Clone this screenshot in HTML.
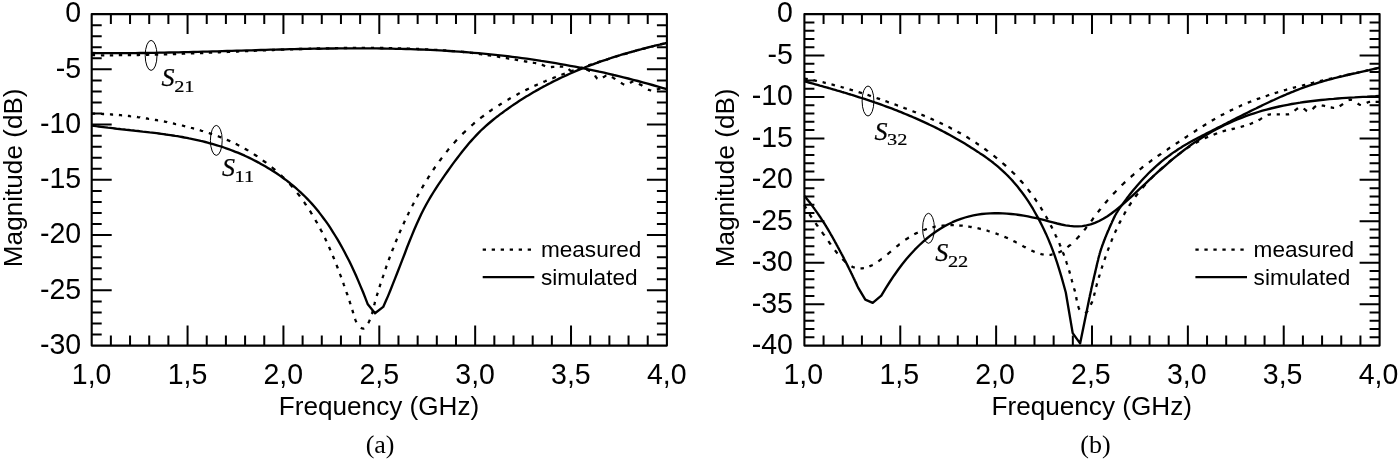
<!DOCTYPE html>
<html lang="en"><head><meta charset="utf-8"><title>S-parameters</title>
<style>
html,body{margin:0;padding:0;background:#fff;}
body{width:1400px;height:463px;overflow:hidden;}
svg{display:block;will-change:transform;}
.t{font-family:"Liberation Sans",Arial,sans-serif;font-size:26.15px;fill:#000;}
.tk{font-family:"Liberation Sans",Arial,sans-serif;font-size:28.5px;fill:#000;}
.lg{font-family:"Liberation Sans",Arial,sans-serif;font-size:22.6px;fill:#000;}
.cap{font-family:"Liberation Serif","Times New Roman",serif;font-size:26px;fill:#000;}
.S{font-family:"Liberation Serif","Times New Roman",serif;font-style:italic;font-size:26px;fill:#000;stroke:#000;stroke-width:0.25;}
.sub{font-family:"Liberation Serif","Times New Roman",serif;font-size:17.7px;fill:#000;stroke:#000;stroke-width:0.2;}
.sol{fill:none;stroke:#000;stroke-width:2.35;stroke-linejoin:round;stroke-linecap:butt;}
.dots{fill:none;stroke:#000;stroke-width:2.3;stroke-linecap:butt;}
.dot{fill:none;stroke:#000;stroke-width:2.2;stroke-dasharray:3.3 5.7;stroke-linejoin:round;}
</style></head><body>
<svg width="1400" height="463" viewBox="0 0 1400 463">
<rect width="1400" height="463" fill="#fff"/>
<rect x="91.70" y="14.10" width="575.20" height="331.50" fill="none" stroke="#000" stroke-width="2.1" stroke-linejoin="round"/>
<path d="M110.87,14.10v10M110.87,345.60v-10M130.05,14.10v10M130.05,345.60v-10M149.22,14.10v10M149.22,345.60v-10M168.39,14.10v10M168.39,345.60v-10M187.57,14.10v20M187.57,345.60v-20M206.74,14.10v10M206.74,345.60v-10M225.91,14.10v10M225.91,345.60v-10M245.09,14.10v10M245.09,345.60v-10M264.26,14.10v10M264.26,345.60v-10M283.43,14.10v20M283.43,345.60v-20M302.61,14.10v10M302.61,345.60v-10M321.78,14.10v10M321.78,345.60v-10M340.95,14.10v10M340.95,345.60v-10M360.13,14.10v10M360.13,345.60v-10M379.30,14.10v20M379.30,345.60v-20M398.47,14.10v10M398.47,345.60v-10M417.65,14.10v10M417.65,345.60v-10M436.82,14.10v10M436.82,345.60v-10M455.99,14.10v10M455.99,345.60v-10M475.17,14.10v20M475.17,345.60v-20M494.34,14.10v10M494.34,345.60v-10M513.51,14.10v10M513.51,345.60v-10M532.69,14.10v10M532.69,345.60v-10M551.86,14.10v10M551.86,345.60v-10M571.03,14.10v20M571.03,345.60v-20M590.21,14.10v10M590.21,345.60v-10M609.38,14.10v10M609.38,345.60v-10M628.55,14.10v10M628.55,345.60v-10M647.73,14.10v10M647.73,345.60v-10M91.70,25.15h10M666.90,25.15h-10M91.70,36.20h10M666.90,36.20h-10M91.70,47.25h10M666.90,47.25h-10M91.70,58.30h10M666.90,58.30h-10M91.70,69.35h20M666.90,69.35h-20M91.70,80.40h10M666.90,80.40h-10M91.70,91.45h10M666.90,91.45h-10M91.70,102.50h10M666.90,102.50h-10M91.70,113.55h10M666.90,113.55h-10M91.70,124.60h20M666.90,124.60h-20M91.70,135.65h10M666.90,135.65h-10M91.70,146.70h10M666.90,146.70h-10M91.70,157.75h10M666.90,157.75h-10M91.70,168.80h10M666.90,168.80h-10M91.70,179.85h20M666.90,179.85h-20M91.70,190.90h10M666.90,190.90h-10M91.70,201.95h10M666.90,201.95h-10M91.70,213.00h10M666.90,213.00h-10M91.70,224.05h10M666.90,224.05h-10M91.70,235.10h20M666.90,235.10h-20M91.70,246.15h10M666.90,246.15h-10M91.70,257.20h10M666.90,257.20h-10M91.70,268.25h10M666.90,268.25h-10M91.70,279.30h10M666.90,279.30h-10M91.70,290.35h20M666.90,290.35h-20M91.70,301.40h10M666.90,301.40h-10M91.70,312.45h10M666.90,312.45h-10M91.70,323.50h10M666.90,323.50h-10M91.70,334.55h10M666.90,334.55h-10" stroke="#000" stroke-width="2" fill="none"/>
<text transform="translate(91.6,384.0) scale(1,1.045)" text-anchor="middle" class="tk">1,0</text>
<text transform="translate(187.5,384.0) scale(1,1.045)" text-anchor="middle" class="tk">1,5</text>
<text transform="translate(283.3,384.0) scale(1,1.045)" text-anchor="middle" class="tk">2,0</text>
<text transform="translate(379.2,384.0) scale(1,1.045)" text-anchor="middle" class="tk">2,5</text>
<text transform="translate(475.1,384.0) scale(1,1.045)" text-anchor="middle" class="tk">3,0</text>
<text transform="translate(570.9,384.0) scale(1,1.045)" text-anchor="middle" class="tk">3,5</text>
<text transform="translate(666.8,384.0) scale(1,1.045)" text-anchor="middle" class="tk">4,0</text>
<text transform="translate(81.2,22.4) scale(1,1.045)" text-anchor="end" class="tk">0</text>
<text transform="translate(81.2,77.6) scale(1,1.045)" text-anchor="end" class="tk">-5</text>
<text transform="translate(81.2,132.9) scale(1,1.045)" text-anchor="end" class="tk">-10</text>
<text transform="translate(81.2,188.2) scale(1,1.045)" text-anchor="end" class="tk">-15</text>
<text transform="translate(81.2,243.4) scale(1,1.045)" text-anchor="end" class="tk">-20</text>
<text transform="translate(81.2,298.7) scale(1,1.045)" text-anchor="end" class="tk">-25</text>
<text transform="translate(81.2,353.9) scale(1,1.045)" text-anchor="end" class="tk">-30</text>
<text x="379.0" y="415.1" text-anchor="middle" class="t">Frequency (GHz)</text>
<text transform="translate(21.6,177.8) rotate(-90)" text-anchor="middle" class="t">Magnitude (dB)</text>
<text x="380.1" y="452.6" text-anchor="middle" class="cap">(a)</text>
<path d="M482.7,249.7H531.5" class="dot"/>
<path d="M482.7,277.1H534.3" class="sol"/>
<text x="540.9" y="257.3" class="lg">measured</text>
<text x="540.9" y="284.5" class="lg">simulated</text>
<rect x="804.40" y="14.10" width="575.20" height="331.50" fill="none" stroke="#000" stroke-width="2.1" stroke-linejoin="round"/>
<path d="M823.57,14.10v10M823.57,345.60v-10M842.75,14.10v10M842.75,345.60v-10M861.92,14.10v10M861.92,345.60v-10M881.09,14.10v10M881.09,345.60v-10M900.27,14.10v20M900.27,345.60v-20M919.44,14.10v10M919.44,345.60v-10M938.61,14.10v10M938.61,345.60v-10M957.79,14.10v10M957.79,345.60v-10M976.96,14.10v10M976.96,345.60v-10M996.13,14.10v20M996.13,345.60v-20M1015.31,14.10v10M1015.31,345.60v-10M1034.48,14.10v10M1034.48,345.60v-10M1053.65,14.10v10M1053.65,345.60v-10M1072.83,14.10v10M1072.83,345.60v-10M1092.00,14.10v20M1092.00,345.60v-20M1111.17,14.10v10M1111.17,345.60v-10M1130.35,14.10v10M1130.35,345.60v-10M1149.52,14.10v10M1149.52,345.60v-10M1168.69,14.10v10M1168.69,345.60v-10M1187.87,14.10v20M1187.87,345.60v-20M1207.04,14.10v10M1207.04,345.60v-10M1226.21,14.10v10M1226.21,345.60v-10M1245.39,14.10v10M1245.39,345.60v-10M1264.56,14.10v10M1264.56,345.60v-10M1283.73,14.10v20M1283.73,345.60v-20M1302.91,14.10v10M1302.91,345.60v-10M1322.08,14.10v10M1322.08,345.60v-10M1341.25,14.10v10M1341.25,345.60v-10M1360.43,14.10v10M1360.43,345.60v-10M804.40,22.39h10M1379.60,22.39h-10M804.40,30.67h10M1379.60,30.67h-10M804.40,38.96h10M1379.60,38.96h-10M804.40,47.25h10M1379.60,47.25h-10M804.40,55.54h20M1379.60,55.54h-20M804.40,63.82h10M1379.60,63.82h-10M804.40,72.11h10M1379.60,72.11h-10M804.40,80.40h10M1379.60,80.40h-10M804.40,88.69h10M1379.60,88.69h-10M804.40,96.97h20M1379.60,96.97h-20M804.40,105.26h10M1379.60,105.26h-10M804.40,113.55h10M1379.60,113.55h-10M804.40,121.84h10M1379.60,121.84h-10M804.40,130.12h10M1379.60,130.12h-10M804.40,138.41h20M1379.60,138.41h-20M804.40,146.70h10M1379.60,146.70h-10M804.40,154.99h10M1379.60,154.99h-10M804.40,163.27h10M1379.60,163.27h-10M804.40,171.56h10M1379.60,171.56h-10M804.40,179.85h20M1379.60,179.85h-20M804.40,188.14h10M1379.60,188.14h-10M804.40,196.42h10M1379.60,196.42h-10M804.40,204.71h10M1379.60,204.71h-10M804.40,213.00h10M1379.60,213.00h-10M804.40,221.29h20M1379.60,221.29h-20M804.40,229.57h10M1379.60,229.57h-10M804.40,237.86h10M1379.60,237.86h-10M804.40,246.15h10M1379.60,246.15h-10M804.40,254.44h10M1379.60,254.44h-10M804.40,262.73h20M1379.60,262.73h-20M804.40,271.01h10M1379.60,271.01h-10M804.40,279.30h10M1379.60,279.30h-10M804.40,287.59h10M1379.60,287.59h-10M804.40,295.88h10M1379.60,295.88h-10M804.40,304.16h20M1379.60,304.16h-20M804.40,312.45h10M1379.60,312.45h-10M804.40,320.74h10M1379.60,320.74h-10M804.40,329.03h10M1379.60,329.03h-10M804.40,337.31h10M1379.60,337.31h-10" stroke="#000" stroke-width="2" fill="none"/>
<text transform="translate(803.3,384.0) scale(1,1.045)" text-anchor="middle" class="tk">1,0</text>
<text transform="translate(899.2,384.0) scale(1,1.045)" text-anchor="middle" class="tk">1,5</text>
<text transform="translate(995.0,384.0) scale(1,1.045)" text-anchor="middle" class="tk">2,0</text>
<text transform="translate(1090.9,384.0) scale(1,1.045)" text-anchor="middle" class="tk">2,5</text>
<text transform="translate(1186.8,384.0) scale(1,1.045)" text-anchor="middle" class="tk">3,0</text>
<text transform="translate(1282.6,384.0) scale(1,1.045)" text-anchor="middle" class="tk">3,5</text>
<text transform="translate(1378.5,384.0) scale(1,1.045)" text-anchor="middle" class="tk">4,0</text>
<text transform="translate(792.9,22.4) scale(1,1.045)" text-anchor="end" class="tk">0</text>
<text transform="translate(792.9,63.8) scale(1,1.045)" text-anchor="end" class="tk">-5</text>
<text transform="translate(792.9,105.3) scale(1,1.045)" text-anchor="end" class="tk">-10</text>
<text transform="translate(792.9,146.7) scale(1,1.045)" text-anchor="end" class="tk">-15</text>
<text transform="translate(792.9,188.2) scale(1,1.045)" text-anchor="end" class="tk">-20</text>
<text transform="translate(792.9,229.6) scale(1,1.045)" text-anchor="end" class="tk">-25</text>
<text transform="translate(792.9,271.0) scale(1,1.045)" text-anchor="end" class="tk">-30</text>
<text transform="translate(792.9,312.5) scale(1,1.045)" text-anchor="end" class="tk">-35</text>
<text transform="translate(792.9,353.9) scale(1,1.045)" text-anchor="end" class="tk">-40</text>
<text x="1091.7" y="415.1" text-anchor="middle" class="t">Frequency (GHz)</text>
<text transform="translate(734.3,177.8) rotate(-90)" text-anchor="middle" class="t">Magnitude (dB)</text>
<text x="1095.5" y="452.6" text-anchor="middle" class="cap">(b)</text>
<path d="M1195.4,249.7H1244.2" class="dot"/>
<path d="M1195.4,277.1H1247.0" class="sol"/>
<text x="1253.6" y="257.3" class="lg">measured</text>
<text x="1253.6" y="284.5" class="lg">simulated</text>
<path d="M91.7,53.0 L96.5,53.1 L101.4,53.1 L106.2,53.1 L111.0,53.1 L115.9,53.2 L120.7,53.1 L125.5,53.1 L130.4,53.1 L135.2,53.1 L140.0,53.0 L144.9,53.0 L149.7,52.9 L154.5,52.8 L159.4,52.7 L164.2,52.6 L169.0,52.5 L173.9,52.4 L178.7,52.3 L183.5,52.2 L188.4,52.1 L193.2,52.0 L198.0,51.9 L202.9,51.7 L207.7,51.6 L212.5,51.4 L217.4,51.3 L222.2,51.2 L227.0,51.0 L231.9,50.9 L236.7,50.7 L241.5,50.6 L246.4,50.4 L251.2,50.3 L256.0,50.2 L260.9,50.0 L265.7,49.9 L270.5,49.7 L275.4,49.6 L280.2,49.5 L285.0,49.4 L289.9,49.2 L294.7,49.1 L299.5,49.0 L304.4,48.9 L309.2,48.8 L314.0,48.7 L318.9,48.7 L323.7,48.6 L328.5,48.5 L333.4,48.5 L338.2,48.4 L343.0,48.4 L347.9,48.4 L352.7,48.3 L357.5,48.3 L362.4,48.3 L367.2,48.4 L372.0,48.4 L376.9,48.4 L381.7,48.5 L386.6,48.6 L391.4,48.7 L396.2,48.8 L401.1,48.9 L405.9,49.0 L410.7,49.1 L415.6,49.3 L420.4,49.5 L425.2,49.7 L430.1,49.9 L434.9,50.2 L439.7,50.4 L444.6,50.7 L449.4,51.0 L454.2,51.3 L459.1,51.6 L463.9,52.0 L468.7,52.4 L473.6,52.8 L478.4,53.2 L483.2,53.6 L488.1,54.1 L492.9,54.6 L497.7,55.1 L502.6,55.7 L507.4,56.2 L512.2,56.8 L517.1,57.4 L521.9,58.1 L526.7,58.7 L531.6,59.4 L536.4,60.1 L541.2,60.9 L546.1,61.6 L550.9,62.4 L555.7,63.2 L560.6,64.1 L565.4,64.9 L570.2,65.8 L575.1,66.7 L579.9,67.7 L584.7,68.6 L589.6,69.6 L594.4,70.6 L599.2,71.7 L604.1,72.7 L608.9,73.8 L613.7,75.0 L618.6,76.1 L623.4,77.3 L628.2,78.5 L633.1,79.8 L637.9,81.0 L642.7,82.3 L647.6,83.6 L652.4,85.0 L657.2,86.4 L662.1,87.8 L666.9,89.2" class="sol"/>
<path d="M91.7,125.5 L94.0,125.8 L96.3,126.2 L98.7,126.5 L101.0,126.8 L103.3,127.1 L105.6,127.4 L107.9,127.7 L110.2,127.9 L112.6,128.2 L114.9,128.5 L117.2,128.8 L119.5,129.0 L121.8,129.3 L124.2,129.5 L126.5,129.8 L128.8,130.0 L131.1,130.3 L133.4,130.5 L135.8,130.8 L138.1,131.0 L140.4,131.3 L142.7,131.6 L145.0,131.8 L147.3,132.1 L149.7,132.4 L152.0,132.6 L154.3,132.9 L156.6,133.2 L158.9,133.5 L161.3,133.8 L163.6,134.1 L165.9,134.5 L168.2,134.8 L170.5,135.1 L172.8,135.5 L175.2,135.9 L177.5,136.2 L179.8,136.6 L182.1,137.0 L184.4,137.5 L186.8,137.9 L189.1,138.4 L191.4,138.8 L193.7,139.3 L196.0,139.8 L198.4,140.3 L200.7,140.9 L203.0,141.4 L205.3,142.0 L207.6,142.6 L209.9,143.3 L212.3,143.9 L214.6,144.6 L216.9,145.3 L219.2,146.0 L221.5,146.7 L223.9,147.5 L226.2,148.3 L228.5,149.1 L230.8,150.0 L233.1,150.9 L235.4,151.8 L237.8,152.7 L240.1,153.7 L242.4,154.7 L244.7,155.7 L247.0,156.8 L249.4,157.9 L251.7,159.0 L254.0,160.2 L256.3,161.4 L258.6,162.6 L260.9,163.9 L263.3,165.2 L265.6,166.5 L267.9,167.9 L270.2,169.3 L272.5,170.8 L274.9,172.3 L277.2,173.8 L279.5,175.4 L281.8,177.0 L284.1,178.7 L286.5,180.4 L288.8,182.2 L291.1,184.1 L293.4,186.0 L295.7,187.9 L298.0,190.0 L300.4,192.1 L302.7,194.3 L305.0,196.5 L307.3,198.9 L309.6,201.3 L312.0,203.9 L314.3,206.5 L316.6,209.3 L318.9,212.1 L321.2,215.1 L323.5,218.2 L325.9,221.4 L328.2,224.7 L330.5,228.2 L332.8,231.8 L335.1,235.5 L337.5,239.3 L339.8,243.3 L342.1,247.5 L344.4,251.8 L346.7,256.2 L349.1,260.8 L351.4,265.6 L353.7,270.5 L356.0,275.6 L358.3,280.9 L360.6,286.4 L363.0,292.0 L365.3,297.9 L367.6,303.9 L375.0,313.2 L383.2,306.9 L385.6,301.6 L388.0,296.1 L390.4,290.3 L392.7,284.4 L395.1,278.4 L397.5,272.3 L399.9,266.1 L402.3,259.8 L404.7,253.7 L407.0,247.5 L409.4,241.5 L411.8,235.6 L414.2,229.8 L416.6,224.3 L419.0,219.0 L421.3,214.0 L423.7,209.3 L426.1,204.8 L428.5,200.5 L430.9,196.4 L433.3,192.5 L435.6,188.8 L438.0,185.1 L440.4,181.6 L442.8,178.1 L445.2,174.6 L447.6,171.2 L450.0,167.9 L452.3,164.6 L454.7,161.4 L457.1,158.2 L459.5,155.1 L461.9,152.0 L464.3,149.1 L466.6,146.2 L469.0,143.3 L471.4,140.6 L473.8,138.0 L476.2,135.4 L478.6,132.9 L480.9,130.5 L483.3,128.3 L485.7,126.1 L488.1,124.0 L490.5,122.0 L492.9,120.0 L495.2,118.1 L497.6,116.3 L500.0,114.4 L502.4,112.7 L504.8,110.9 L507.2,109.2 L509.6,107.5 L511.9,105.9 L514.3,104.3 L516.7,102.7 L519.1,101.1 L521.5,99.6 L523.9,98.1 L526.2,96.6 L528.6,95.2 L531.0,93.7 L533.4,92.3 L535.8,90.9 L538.2,89.6 L540.5,88.3 L542.9,86.9 L545.3,85.7 L547.7,84.4 L550.1,83.2 L552.5,81.9 L554.9,80.7 L557.2,79.6 L559.6,78.4 L562.0,77.3 L564.4,76.2 L566.8,75.1 L569.2,74.0 L571.5,73.0 L573.9,71.9 L576.3,70.9 L578.7,69.9 L581.1,68.9 L583.5,68.0 L585.8,67.0 L588.2,66.1 L590.6,65.2 L593.0,64.3 L595.4,63.4 L597.8,62.6 L600.1,61.7 L602.5,60.9 L604.9,60.1 L607.3,59.3 L609.7,58.5 L612.1,57.7 L614.5,56.9 L616.8,56.2 L619.2,55.5 L621.6,54.7 L624.0,54.0 L626.4,53.3 L628.8,52.6 L631.1,52.0 L633.5,51.3 L635.9,50.6 L638.3,50.0 L640.7,49.4 L643.1,48.7 L645.4,48.1 L647.8,47.5 L650.2,46.9 L652.6,46.3 L655.0,45.7 L657.4,45.1 L659.7,44.6 L662.1,44.0 L664.5,43.5 L666.9,42.9" class="sol"/>
<path d="M804.4,81.3 L806.6,81.9 L808.8,82.5 L811.0,83.1 L813.2,83.7 L815.4,84.3 L817.6,84.9 L819.8,85.6 L822.0,86.2 L824.2,86.8 L826.4,87.4 L828.6,88.0 L830.8,88.7 L833.0,89.3 L835.2,89.9 L837.3,90.6 L839.5,91.2 L841.7,91.9 L843.9,92.5 L846.1,93.2 L848.3,93.9 L850.5,94.5 L852.7,95.2 L854.9,95.9 L857.1,96.6 L859.3,97.3 L861.5,98.0 L863.7,98.7 L865.9,99.4 L868.1,100.1 L870.3,100.9 L872.5,101.6 L874.7,102.4 L876.9,103.1 L879.1,103.9 L881.3,104.7 L883.5,105.5 L885.7,106.3 L887.9,107.1 L890.1,107.9 L892.3,108.7 L894.5,109.6 L896.7,110.4 L898.9,111.3 L901.1,112.2 L903.2,113.1 L905.4,114.0 L907.6,114.9 L909.8,115.8 L912.0,116.7 L914.2,117.7 L916.4,118.6 L918.6,119.6 L920.8,120.6 L923.0,121.6 L925.2,122.6 L927.4,123.6 L929.6,124.7 L931.8,125.7 L934.0,126.8 L936.2,127.9 L938.4,129.0 L940.6,130.1 L942.8,131.3 L945.0,132.4 L947.2,133.6 L949.4,134.8 L951.6,136.0 L953.8,137.2 L956.0,138.5 L958.2,139.7 L960.4,141.0 L962.6,142.3 L964.8,143.6 L967.0,144.9 L969.1,146.3 L971.3,147.7 L973.5,149.1 L975.7,150.5 L977.9,151.9 L980.1,153.4 L982.3,154.8 L984.5,156.3 L986.7,157.9 L988.9,159.5 L991.1,161.1 L993.3,162.8 L995.5,164.6 L997.7,166.4 L999.9,168.3 L1002.1,170.3 L1004.3,172.3 L1006.5,174.5 L1008.7,176.7 L1010.9,179.0 L1013.1,181.4 L1015.3,184.0 L1017.5,186.6 L1019.7,189.4 L1021.9,192.3 L1024.1,195.3 L1026.3,198.4 L1028.5,201.7 L1030.7,205.2 L1032.9,208.7 L1035.0,212.5 L1037.2,216.4 L1039.4,220.4 L1041.6,224.7 L1043.8,229.2 L1046.0,233.9 L1048.2,238.9 L1050.4,244.2 L1052.6,249.9 L1054.8,255.9 L1057.0,262.4 L1059.2,269.3 L1061.4,276.7 L1063.6,284.5 L1065.8,292.5 L1072.7,333.1 L1080.1,343.4 L1089.1,299.4 L1089.4,298.1 L1089.7,296.8 L1089.9,295.5 L1090.2,294.2 L1090.5,292.9 L1090.8,291.6 L1091.1,290.3 L1091.3,289.1 L1091.6,287.8 L1091.9,286.5 L1092.2,285.3 L1092.5,284.1 L1092.7,282.8 L1093.0,281.6 L1093.3,280.3 L1093.6,279.1 L1093.9,277.9 L1094.1,276.7 L1094.4,275.5 L1094.7,274.3 L1095.0,273.1 L1095.3,271.9 L1095.5,270.7 L1095.8,269.5 L1096.1,268.3 L1096.4,267.1 L1096.7,265.9 L1096.9,264.7 L1097.2,263.5 L1097.5,262.3 L1097.8,261.1 L1098.1,260.0 L1098.3,258.8 L1098.6,257.7 L1098.9,256.6 L1099.2,255.5 L1099.5,254.5 L1099.7,253.5 L1100.0,252.6 L1100.3,251.6 L1100.6,250.7 L1100.9,249.9 L1101.1,249.0 L1101.4,248.2 L1101.7,247.3 L1102.0,246.5 L1102.3,245.7 L1102.5,245.0 L1102.8,244.2 L1103.1,243.5 L1103.4,242.7 L1103.7,242.0 L1103.9,241.2 L1104.2,240.5 L1104.5,239.8 L1104.8,239.0 L1105.1,238.3 L1105.3,237.6 L1105.6,236.9 L1105.9,236.2 L1106.2,235.5 L1106.4,234.9 L1106.7,234.2 L1107.0,233.5 L1107.3,232.9 L1107.6,232.2 L1107.8,231.5 L1108.1,230.9 L1108.4,230.3 L1108.7,229.6 L1109.0,229.0 L1109.2,228.3 L1109.5,227.7 L1109.8,227.1 L1110.1,226.4 L1110.4,225.8 L1110.6,225.2 L1110.9,224.5 L1111.2,223.9 L1111.5,223.3 L1111.8,222.6 L1112.0,222.0 L1112.3,221.4 L1112.6,220.8 L1112.9,220.2 L1113.2,219.6 L1113.4,219.0 L1113.7,218.4 L1114.0,217.8 L1114.3,217.2 L1114.6,216.6 L1114.8,216.1 L1115.1,215.5 L1115.4,215.0 L1115.7,214.5 L1116.0,214.0 L1116.2,213.5 L1116.5,213.0 L1116.8,212.5 L1117.1,212.1 L1117.4,211.6 L1117.6,211.2 L1117.9,210.7 L1118.2,210.3 L1118.5,209.8 L1118.8,209.4 L1119.0,209.0 L1119.3,208.6 L1119.6,208.1 L1119.9,207.7 L1120.2,207.4 L1120.4,207.0 L1120.7,206.6 L1121.0,206.2 L1121.3,205.9 L1121.6,205.5 L1121.8,205.2 L1122.1,204.8 L1122.4,204.5 L1124.6,201.5 L1126.7,198.6 L1128.9,195.8 L1131.0,193.0 L1133.2,190.3 L1135.4,187.7 L1137.5,185.2 L1139.7,182.7 L1141.9,180.3 L1144.0,178.0 L1146.2,175.7 L1148.3,173.5 L1150.5,171.4 L1152.7,169.3 L1154.8,167.3 L1157.0,165.4 L1159.2,163.5 L1161.3,161.7 L1163.5,159.9 L1165.6,158.2 L1167.8,156.6 L1170.0,155.0 L1172.1,153.4 L1174.3,151.9 L1176.5,150.5 L1178.6,149.0 L1180.8,147.7 L1182.9,146.3 L1185.1,145.0 L1187.3,143.8 L1189.4,142.5 L1191.6,141.3 L1193.8,140.1 L1195.9,139.0 L1198.1,137.8 L1200.2,136.7 L1202.4,135.6 L1204.6,134.5 L1206.7,133.4 L1208.9,132.3 L1211.0,131.2 L1213.2,130.1 L1215.4,129.0 L1217.5,127.9 L1219.7,126.8 L1221.9,125.7 L1224.0,124.6 L1226.2,123.5 L1228.3,122.4 L1230.5,121.3 L1232.7,120.1 L1234.8,119.0 L1237.0,117.9 L1239.2,116.8 L1241.3,115.7 L1243.5,114.6 L1245.6,113.6 L1247.8,112.5 L1250.0,111.4 L1252.1,110.3 L1254.3,109.2 L1256.5,108.2 L1258.6,107.1 L1260.8,106.1 L1262.9,105.0 L1265.1,104.0 L1267.3,103.0 L1269.4,102.0 L1271.6,100.9 L1273.8,100.0 L1275.9,99.0 L1278.1,98.0 L1280.2,97.0 L1282.4,96.1 L1284.6,95.2 L1286.7,94.2 L1288.9,93.3 L1291.1,92.4 L1293.2,91.6 L1295.4,90.7 L1297.5,89.9 L1299.7,89.0 L1301.9,88.2 L1304.0,87.4 L1306.2,86.7 L1308.3,85.9 L1310.5,85.2 L1312.7,84.5 L1314.8,83.8 L1317.0,83.1 L1319.2,82.4 L1321.3,81.8 L1323.5,81.2 L1325.6,80.5 L1327.8,79.9 L1330.0,79.4 L1332.1,78.8 L1334.3,78.2 L1336.5,77.7 L1338.6,77.1 L1340.8,76.6 L1342.9,76.1 L1345.1,75.5 L1347.3,75.0 L1349.4,74.5 L1351.6,74.0 L1353.8,73.5 L1355.9,73.1 L1358.1,72.6 L1360.2,72.1 L1362.4,71.6 L1364.6,71.1 L1366.7,70.6 L1368.9,70.2 L1371.1,69.7 L1373.2,69.2 L1375.4,68.7 L1377.5,68.2 L1379.7,67.7" class="sol"/>
<path d="M804.4,196.0 L804.9,196.5 L805.3,197.1 L805.8,197.6 L806.2,198.1 L806.7,198.7 L807.1,199.2 L807.6,199.8 L808.0,200.4 L808.5,200.9 L808.9,201.5 L809.4,202.1 L809.8,202.6 L810.3,203.2 L810.7,203.8 L811.2,204.4 L811.6,205.0 L812.1,205.6 L812.5,206.2 L813.0,206.8 L813.4,207.4 L813.9,208.0 L814.3,208.6 L814.8,209.3 L815.2,209.9 L815.7,210.5 L816.1,211.2 L816.6,211.8 L817.0,212.4 L817.5,213.1 L817.9,213.7 L818.4,214.4 L818.8,215.0 L819.3,215.7 L819.7,216.4 L820.2,217.0 L820.6,217.7 L821.1,218.4 L821.5,219.1 L822.0,219.8 L822.4,220.4 L822.9,221.1 L823.3,221.8 L823.8,222.6 L824.2,223.3 L824.7,224.0 L825.1,224.7 L825.6,225.4 L826.0,226.2 L826.5,226.9 L826.9,227.7 L827.4,228.4 L827.8,229.2 L828.3,229.9 L828.7,230.7 L829.2,231.5 L829.6,232.2 L830.1,233.0 L830.5,233.8 L831.0,234.6 L831.4,235.4 L831.9,236.1 L832.3,236.9 L832.8,237.7 L833.2,238.5 L833.7,239.4 L834.1,240.2 L834.6,241.0 L835.0,241.8 L835.5,242.6 L835.9,243.4 L836.4,244.3 L836.8,245.1 L837.3,245.9 L837.7,246.7 L838.2,247.6 L838.6,248.4 L839.1,249.3 L839.5,250.1 L840.0,250.9 L840.4,251.8 L840.9,252.6 L841.3,253.5 L841.8,254.3 L842.2,255.2 L842.7,256.0 L843.1,256.9 L843.6,257.7 L844.0,258.6 L844.5,259.5 L844.9,260.3 L845.4,261.2 L845.8,262.1 L846.3,263.0 L846.7,263.9 L847.2,264.8 L847.6,265.6 L848.1,266.6 L848.5,267.5 L849.0,268.4 L849.4,269.3 L849.9,270.2 L850.3,271.1 L850.8,272.0 L851.2,273.0 L851.7,273.9 L852.1,274.8 L852.6,275.8 L853.0,276.7 L853.5,277.7 L853.9,278.6 L854.4,279.6 L854.8,280.5 L855.3,281.5 L855.7,282.4 L856.2,283.4 L856.6,284.4 L857.1,285.4 L857.5,286.3 L858.0,287.3 L865.3,299.7 L872.7,302.8 L881.3,295.6 L885.5,288.6 L889.7,282.0 L893.9,275.7 L898.1,269.8 L902.2,264.3 L906.4,259.1 L910.6,254.2 L914.8,249.7 L919.0,245.5 L923.2,241.6 L927.4,238.0 L931.6,234.7 L935.7,231.7 L939.9,228.9 L944.1,226.4 L948.3,224.2 L952.5,222.2 L956.7,220.4 L960.9,218.8 L965.1,217.5 L969.3,216.3 L973.4,215.4 L977.6,214.6 L981.8,214.0 L986.0,213.6 L990.2,213.3 L994.4,213.2 L998.6,213.2 L1002.8,213.3 L1006.9,213.6 L1011.1,214.0 L1015.3,214.4 L1019.5,215.0 L1023.7,215.7 L1027.9,216.4 L1032.1,217.3 L1036.3,218.2 L1040.5,219.1 L1044.6,220.2 L1048.8,221.3 L1053.0,222.4 L1057.2,223.5 L1061.4,224.5 L1065.6,225.3 L1069.8,225.9 L1074.0,226.3 L1078.1,226.3 L1082.3,226.1 L1086.5,225.4 L1090.7,224.4 L1094.9,222.9 L1099.1,221.0 L1103.3,218.8 L1107.5,216.2 L1111.7,213.3 L1115.8,210.1 L1120.0,206.7 L1124.2,203.1 L1128.4,199.4 L1132.6,195.6 L1136.8,191.7 L1141.0,187.7 L1145.2,183.8 L1149.3,179.9 L1153.5,176.0 L1157.7,172.2 L1161.9,168.5 L1166.1,164.8 L1170.3,161.2 L1174.5,157.7 L1178.7,154.3 L1182.9,151.0 L1187.0,147.9 L1191.2,144.8 L1195.4,141.9 L1199.6,139.2 L1203.8,136.5 L1208.0,134.0 L1212.2,131.6 L1216.4,129.3 L1220.5,127.1 L1224.7,125.0 L1228.9,123.1 L1233.1,121.2 L1237.3,119.4 L1241.5,117.8 L1245.7,116.2 L1249.9,114.7 L1254.1,113.3 L1258.2,112.0 L1262.4,110.7 L1266.6,109.6 L1270.8,108.5 L1275.0,107.5 L1279.2,106.5 L1283.4,105.6 L1287.6,104.8 L1291.7,104.0 L1295.9,103.3 L1300.1,102.7 L1304.3,102.0 L1308.5,101.5 L1312.7,101.0 L1316.9,100.5 L1321.1,100.0 L1325.3,99.6 L1329.4,99.2 L1333.6,98.9 L1337.8,98.5 L1342.0,98.2 L1346.2,97.9 L1350.4,97.6 L1354.6,97.4 L1358.8,97.1 L1362.9,96.8 L1367.1,96.6 L1371.3,96.3 L1375.5,96.1 L1379.7,95.8" class="sol"/>
<path d="M91.7,55.2 L92.7,55.2 L93.6,55.2 L94.6,55.2 L95.1,55.2M100.9,55.3 L101.9,55.3 L102.8,55.3 L103.8,55.3 L104.3,55.3M109.8,55.3 L110.8,55.3 L111.8,55.3 L112.7,55.3 L113.2,55.3M118.8,55.2 L119.8,55.2 L120.7,55.2 L121.7,55.2 L122.2,55.2M127.8,55.1 L128.7,55.1 L129.7,55.1 L130.7,55.1 L131.1,55.1M136.7,55.0 L137.7,55.0 L138.6,55.0 L139.6,54.9 L140.1,54.9M145.9,54.8 L146.9,54.8 L147.8,54.8 L148.8,54.7 L149.3,54.7M154.8,54.6 L155.8,54.6 L156.8,54.5 L157.8,54.5 L158.2,54.5M163.8,54.3 L164.8,54.3 L165.7,54.3 L166.7,54.3 L167.2,54.2M172.8,54.1 L173.7,54.0 L174.7,54.0 L175.7,54.0 L176.1,53.9M181.7,53.8 L182.7,53.7 L183.6,53.7 L184.6,53.7 L185.1,53.6M190.9,53.4 L191.9,53.4 L192.8,53.3 L193.8,53.3 L194.3,53.3M199.9,53.1 L200.8,53.0 L201.8,53.0 L202.8,53.0 L203.2,52.9M208.8,52.7 L209.8,52.7 L210.7,52.6 L211.7,52.6 L212.2,52.6M217.8,52.3 L218.7,52.3 L219.7,52.3 L220.7,52.2 L221.1,52.2M226.7,52.0 L227.7,51.9 L228.6,51.9 L229.6,51.8 L230.1,51.8M235.9,51.6 L236.9,51.5 L237.8,51.5 L238.8,51.4 L239.3,51.4M244.9,51.2 L245.8,51.1 L246.8,51.1 L247.8,51.1 L248.2,51.0M253.8,50.8 L254.8,50.8 L255.7,50.7 L256.7,50.7 L257.2,50.7M262.8,50.4 L263.7,50.4 L264.7,50.3 L265.7,50.3 L266.1,50.3M271.7,50.1 L272.7,50.0 L273.6,50.0 L274.6,49.9 L275.1,49.9M280.9,49.7 L281.9,49.7 L282.8,49.6 L283.8,49.6 L284.3,49.6M289.9,49.4 L290.8,49.3 L291.8,49.3 L292.8,49.3 L293.2,49.3M298.8,49.1 L299.8,49.0 L300.7,49.0 L301.7,49.0 L302.2,49.0M307.8,48.8 L308.7,48.8 L309.7,48.7 L310.7,48.7 L311.2,48.7M316.7,48.5 L317.7,48.5 L318.7,48.5 L319.6,48.5 L320.1,48.5M325.9,48.3 L326.9,48.3 L327.8,48.3 L328.8,48.3 L329.3,48.3M334.9,48.1 L335.8,48.1 L336.8,48.1 L337.8,48.1 L338.2,48.1M343.8,48.0 L344.8,48.0 L345.7,48.0 L346.7,48.0 L347.2,48.0M352.8,47.9 L353.7,47.9 L354.7,47.9 L355.7,47.9 L356.2,47.9M361.7,47.9 L362.7,47.9 L363.7,47.9 L364.6,47.9 L365.1,47.9M370.9,47.9 L371.9,47.9 L372.8,47.9 L373.8,47.9 L374.1,47.9M379.9,48.0 L380.8,48.0 L381.8,48.0 L382.8,48.0 L383.3,48.0M388.8,48.1 L389.8,48.1 L390.8,48.1 L391.7,48.1 L392.2,48.1M397.8,48.3 L398.7,48.3 L399.7,48.3 L400.7,48.4 L401.2,48.4M406.7,48.5 L407.7,48.6 L408.7,48.6 L409.6,48.6 L410.1,48.6M415.9,48.9 L416.9,48.9 L417.9,49.0 L418.8,49.0 L419.1,49.0M424.9,49.3 L425.8,49.3 L426.8,49.4 L427.8,49.4 L428.3,49.4M433.8,49.8 L434.8,49.8 L435.8,49.9 L436.7,49.9 L437.2,50.0M442.8,50.3 L443.7,50.4 L444.7,50.5 L445.7,50.5 L446.2,50.6M451.7,51.0 L452.7,51.1 L453.7,51.1 L454.6,51.2 L455.1,51.2M460.9,51.7 L461.9,51.8 L462.9,51.9 L463.8,52.0 L464.1,52.0M469.9,52.7 L470.8,52.8 L471.8,52.9 L472.8,53.0 L473.2,53.1M478.8,53.9 L479.7,54.0 L480.7,54.1 L481.7,54.3 L482.2,54.3M487.7,55.1 L488.7,55.3 L489.6,55.4 L490.6,55.6 L491.1,55.6M496.9,56.5 L497.8,56.7 L498.8,56.8 L499.8,57.0 L500.2,57.0M505.8,58.0 L506.8,58.1 L507.7,58.3 L508.7,58.5 L509.2,58.5M514.7,59.5 L515.7,59.7 L516.6,59.9 L517.6,60.1 L518.1,60.2M523.9,61.2 L524.8,61.4 L525.8,61.5 L526.8,61.7 L527.3,61.8M532.8,62.7 L533.8,62.8 L534.7,63.0 L535.7,63.2 L536.2,63.3M541.8,64.7 L542.6,65.0 L543.4,65.4 L544.3,65.8 L545.1,66.2M550.9,67.1 L551.9,67.0 L552.8,66.9 L553.8,66.8 L554.3,66.8M559.8,66.5 L560.8,66.6 L561.7,66.6 L562.7,66.7 L563.2,66.7M568.7,68.9 L569.3,69.6 L570.0,70.3 L570.7,70.9 L571.6,70.9 L571.9,70.9M577.7,69.4 L578.6,69.1 L579.6,68.9 L580.6,68.7 L581.0,68.7M586.5,69.5 L587.3,69.8 L588.2,70.2 L589.0,70.6 L589.9,71.0 L590.1,71.1M595.0,75.5 L595.5,76.3 L596.0,77.1 L596.6,77.9 L597.2,78.7 L597.4,78.8M602.9,77.6 L603.7,77.1 L604.4,76.6 L605.3,76.1 L606.1,75.6 L606.4,75.6M611.9,76.9 L612.7,77.4 L613.4,77.9 L614.2,78.4 L614.9,78.9 L615.3,79.2M620.9,82.8 L621.7,83.3 L622.6,83.8 L623.4,84.2 L624.3,84.6M630.0,83.0 L630.8,82.5 L631.7,82.0 L632.5,81.7 L633.4,81.5M639.0,83.8 L639.9,84.4 L640.7,84.8 L641.6,85.3 L642.3,85.9M647.9,89.7 L648.8,90.0 L649.8,90.2 L650.7,90.3 L651.2,90.4M657.0,89.8 L657.8,89.3 L658.7,88.9 L659.7,88.6 L660.4,88.5M665.9,89.0 L666.9,89.3" class="dots"/>
<path d="M91.7,113.6 L92.7,113.6 L93.6,113.6 L94.6,113.7 L95.1,113.7M100.9,113.9 L101.9,113.9 L102.9,114.0 L103.9,114.0 L104.1,114.0M109.9,114.4 L110.9,114.4 L111.9,114.5 L112.9,114.6 L113.1,114.6M118.9,115.0 L119.9,115.1 L120.9,115.2 L121.9,115.3 L122.1,115.3M127.9,115.9 L128.9,116.0 L129.9,116.2 L130.9,116.3 L131.1,116.3M136.9,117.0 L137.9,117.2 L138.9,117.3 L139.9,117.4 L140.1,117.5M145.9,118.3 L146.9,118.5 L147.9,118.7 L148.9,118.8 L149.1,118.8M154.9,119.8 L155.9,120.0 L156.9,120.2 L157.9,120.4 L158.1,120.4M163.9,121.5 L164.9,121.7 L165.9,121.9 L166.9,122.1 L167.1,122.2M172.9,123.4 L173.9,123.6 L174.9,123.9 L175.9,124.1 L176.1,124.1M181.9,125.5 L182.8,125.7 L183.6,125.9 L184.5,126.1 L185.2,126.3M190.9,127.8 L191.7,128.0 L192.6,128.2 L193.5,128.5 L194.1,128.6M199.8,130.2 L200.7,130.5 L201.6,130.8 L202.5,131.0 L203.1,131.2M208.8,133.0 L209.7,133.3 L210.6,133.6 L211.4,133.9 L212.1,134.1M217.8,136.2 L218.7,136.5 L219.5,136.8 L220.4,137.2 L221.3,137.5M226.8,139.8 L227.6,140.1 L228.5,140.5 L229.4,140.9 L230.3,141.3M235.7,143.9 L236.6,144.3 L237.5,144.8 L238.4,145.2 L239.2,145.7M244.7,148.7 L245.5,149.1 L246.3,149.6 L247.1,150.1 L247.9,150.5 L248.1,150.7M253.9,154.2 L254.7,154.8 L255.5,155.3 L256.3,155.8 L257.1,156.3 L257.3,156.5M262.8,160.4 L263.6,161.0 L264.4,161.5 L265.2,162.1 L266.0,162.7 L266.2,162.9M271.8,167.2 L272.5,167.8 L273.2,168.4 L273.9,169.0 L274.7,169.6 L275.2,170.1M280.9,175.1 L281.6,175.8 L282.3,176.5 L283.0,177.1 L283.7,177.8 L284.2,178.2M289.6,183.8 L290.2,184.5 L290.9,185.3 L291.5,186.0 L292.2,186.7 L292.6,187.2M297.3,192.9 L297.9,193.7 L298.5,194.4 L299.1,195.2 L299.7,196.0 L300.0,196.4M303.9,201.9 L304.5,202.6 L305.0,203.5 L305.5,204.3 L306.1,205.1 L306.2,205.3M309.8,210.8 L310.4,211.6 L310.9,212.4 L311.4,213.3 L311.9,214.1 L312.0,214.3M315.4,219.9 L315.8,220.7 L316.3,221.6 L316.8,222.4 L317.3,223.3M320.3,228.8 L320.7,229.7 L321.2,230.6 L321.7,231.4 L322.1,232.3M324.9,238.0 L325.3,238.8 L325.7,239.7 L326.1,240.6 L326.5,241.3M329.0,246.9 L329.4,247.8 L329.8,248.7 L330.2,249.6 L330.5,250.3M332.9,255.9 L333.2,256.8 L333.6,257.7 L334.0,258.6 L334.2,259.2M336.5,264.9 L336.9,265.9 L337.2,266.8 L337.6,267.7 L337.8,268.4M339.9,273.8 L340.2,274.7 L340.6,275.6 L340.9,276.5 L341.2,277.2M343.2,282.8 L343.5,283.7 L343.8,284.6 L344.2,285.6 L344.4,286.2M346.4,292.0 L346.7,292.9 L347.0,293.8 L347.4,294.7 L347.5,295.2M349.4,300.8 L349.7,301.7 L350.0,302.7 L350.3,303.6 L350.5,304.3M352.3,309.9 L352.6,310.8 L352.8,311.7 L353.1,312.6 L353.3,313.3M355.1,318.9 L355.3,319.6 L355.6,320.3 L355.8,320.9 L356.1,321.6 L356.4,322.3M360.8,327.7 L361.6,328.2 L362.4,328.5 L363.1,328.7 L363.9,328.6 L364.3,328.5M368.2,323.2 L368.6,322.5 L369.0,321.7 L369.3,321.0 L369.7,320.2 L369.9,319.8M371.9,314.2 L372.2,313.3 L372.4,312.4 L372.7,311.4 L372.9,310.7M374.2,305.2 L374.4,304.4 L374.6,303.6 L374.8,302.7 L375.0,301.9M376.8,296.1 L377.0,295.1 L377.3,294.2 L377.6,293.3 L377.8,292.8M379.5,287.1 L379.8,286.1 L380.1,285.2 L380.4,284.3 L380.6,283.8M382.4,278.1 L382.8,277.2 L383.1,276.2 L383.4,275.3 L383.5,274.8M385.5,269.2 L385.8,268.3 L386.1,267.4 L386.4,266.4 L386.7,265.7M388.7,260.2 L389.0,259.2 L389.4,258.3 L389.7,257.4 L390.0,256.7M392.1,251.2 L392.4,250.2 L392.8,249.3 L393.2,248.4 L393.4,247.7M395.7,242.2 L396.0,241.2 L396.4,240.3 L396.8,239.4 L397.1,238.7M399.4,233.1 L399.8,232.2 L400.2,231.3 L400.6,230.4 L400.9,229.8M403.4,224.2 L403.8,223.3 L404.2,222.4 L404.6,221.5 L404.9,220.8M407.6,215.2 L408.1,214.3 L408.5,213.4 L408.9,212.5 L409.2,211.9M412.1,206.1 L412.6,205.3 L413.0,204.4 L413.5,203.5 L413.9,202.7M416.8,197.2 L417.3,196.4 L417.8,195.5 L418.2,194.7 L418.7,193.8M421.9,188.2 L422.3,187.4 L422.8,186.6 L423.3,185.7 L423.8,184.9 L423.9,184.7M427.3,179.2 L427.8,178.4 L428.3,177.5 L428.8,176.7 L429.4,175.9 L429.5,175.7M433.1,170.2 L433.6,169.4 L434.1,168.6 L434.7,167.8 L435.2,167.0 L435.4,166.8M439.4,161.2 L439.9,160.4 L440.5,159.7 L441.1,158.9 L441.7,158.1 L442.0,157.7M446.3,152.1 L446.9,151.4 L447.5,150.6 L448.1,149.9 L448.7,149.1 L449.0,148.8M453.8,143.2 L454.5,142.5 L455.1,141.8 L455.8,141.1 L456.4,140.3 L456.9,139.8M462.4,134.1 L463.1,133.4 L463.8,132.7 L464.5,132.1 L465.2,131.4 L465.8,130.9M471.4,125.7 L472.1,125.1 L472.8,124.5 L473.5,123.9 L474.2,123.2 L474.8,122.7M480.3,118.3 L481.0,117.7 L481.8,117.1 L482.6,116.5 L483.3,116.0 L483.9,115.5M489.3,111.6 L490.1,111.0 L490.9,110.5 L491.7,109.9 L492.5,109.3 L492.7,109.2M498.5,105.4 L499.3,104.9 L500.1,104.4 L500.9,103.9 L501.7,103.4M507.5,99.9 L508.3,99.5 L509.1,99.0 L509.9,98.5 L510.7,98.0M516.5,94.9 L517.3,94.4 L518.1,94.0 L518.9,93.6 L519.7,93.1M525.3,90.3 L526.2,89.9 L527.1,89.4 L528.0,89.0 L528.9,88.6M534.4,85.9 L535.3,85.5 L536.2,85.1 L537.1,84.7 L537.8,84.4M543.4,82.0 L544.3,81.6 L545.1,81.3 L546.0,80.9 L546.7,80.6M552.3,78.3 L553.2,78.0 L554.1,77.6 L555.0,77.3 L555.8,76.9M561.4,74.8 L562.3,74.5 L563.2,74.2 L564.1,73.8 L564.8,73.6M570.3,71.6 L571.2,71.3 L572.1,71.0 L573.0,70.6 L573.7,70.4M579.5,68.4 L580.4,68.1 L581.3,67.8 L582.2,67.5 L582.8,67.3M588.4,65.4 L589.3,65.1 L590.2,64.8 L591.1,64.5 L591.8,64.3M597.3,62.5 L598.2,62.2 L599.1,61.9 L600.0,61.6 L600.7,61.4M606.5,59.6 L607.4,59.3 L608.3,59.0 L609.1,58.7 L609.8,58.5M615.4,56.8 L616.3,56.5 L617.2,56.2 L618.1,56.0 L618.7,55.8M624.3,54.1 L625.2,53.9 L626.1,53.6 L627.0,53.3 L627.7,53.1M633.5,51.5 L634.3,51.2 L635.2,51.0 L636.1,50.7 L636.8,50.6M642.4,49.0 L643.3,48.8 L644.2,48.6 L645.0,48.3 L645.7,48.1M651.3,46.7 L652.2,46.5 L653.1,46.2 L654.0,46.0 L654.9,45.8M660.4,44.4 L661.3,44.2 L662.2,44.0 L663.1,43.8 L663.8,43.6" class="dots"/>
<path d="M804.4,78.5 L805.3,78.7 L806.2,78.8 L807.1,79.0 L807.8,79.1M813.5,80.2 L814.4,80.4 L815.3,80.6 L816.2,80.8 L816.9,81.0M822.6,82.2 L823.5,82.4 L824.4,82.7 L825.3,82.9 L825.8,83.0M831.5,84.4 L832.4,84.6 L833.3,84.8 L834.2,85.1 L834.9,85.3M840.6,86.8 L841.5,87.0 L842.4,87.3 L843.3,87.5 L843.8,87.7M849.5,89.3 L850.4,89.6 L851.3,89.9 L852.2,90.1 L852.9,90.3M858.6,92.1 L859.5,92.4 L860.4,92.7 L861.3,92.9 L862.0,93.2M867.5,94.9 L868.4,95.2 L869.3,95.5 L870.2,95.8 L870.9,96.1M876.6,98.0 L877.5,98.3 L878.4,98.6 L879.3,98.9 L880.0,99.2M885.4,101.1 L886.4,101.4 L887.3,101.7 L888.2,102.1 L888.9,102.3M894.5,104.4 L895.5,104.7 L896.4,105.0 L897.3,105.4 L898.0,105.6M903.4,107.6 L904.3,108.0 L905.2,108.3 L906.2,108.7 L906.8,108.9M912.5,111.1 L913.4,111.5 L914.4,111.8 L915.3,112.2 L915.9,112.5M921.4,114.7 L922.3,115.0 L923.2,115.4 L924.1,115.8 L924.8,116.1M930.5,118.5 L931.4,118.9 L932.3,119.3 L933.2,119.7 L933.9,120.0M939.5,122.6 L940.4,123.0 L941.2,123.4 L942.0,123.7 L942.9,124.1M948.4,126.9 L949.3,127.3 L950.1,127.7 L950.9,128.2 L951.7,128.6 L952.0,128.7M957.5,131.7 L958.4,132.2 L959.2,132.6 L960.0,133.1 L960.9,133.6M966.4,136.8 L967.3,137.3 L968.1,137.8 L968.9,138.4 L969.8,138.9 L970.0,139.0M975.5,142.6 L976.4,143.1 L977.2,143.7 L978.0,144.2 L978.7,144.7 L978.9,144.8M984.4,148.7 L985.2,149.3 L985.9,149.8 L986.7,150.4 L987.5,150.9 L987.8,151.2M993.5,155.6 L994.3,156.2 L995.1,156.8 L995.8,157.4 L996.6,158.0 L997.0,158.3M1002.5,163.0 L1003.2,163.6 L1003.9,164.2 L1004.6,164.8 L1005.3,165.4 L1006.0,166.1M1011.6,171.3 L1012.3,172.0 L1013.0,172.6 L1013.7,173.3 L1014.4,174.0 L1014.9,174.6M1020.2,180.2 L1020.8,180.9 L1021.5,181.6 L1022.1,182.3 L1022.8,183.1 L1023.2,183.6M1027.8,189.1 L1028.4,189.9 L1029.0,190.7 L1029.6,191.5 L1030.2,192.2 L1030.5,192.6M1034.6,198.2 L1035.1,199.0 L1035.7,199.8 L1036.2,200.6 L1036.7,201.4 L1036.9,201.6M1040.5,207.2 L1041.0,208.0 L1041.5,208.9 L1042.0,209.7 L1042.5,210.5M1045.8,216.2 L1046.3,217.0 L1046.8,217.9 L1047.3,218.8 L1047.7,219.6M1050.7,225.2 L1051.1,226.1 L1051.6,226.9 L1052.0,227.8 L1052.4,228.6M1055.1,234.2 L1055.5,235.1 L1055.9,236.0 L1056.4,236.9 L1056.7,237.5M1059.2,243.1 L1059.6,244.0 L1059.9,244.9 L1060.3,245.8 L1060.6,246.5M1062.9,252.2 L1063.2,253.1 L1063.6,254.0 L1063.9,254.9 L1064.2,255.6M1066.1,261.1 L1066.4,262.0 L1066.7,263.0 L1067.0,263.9 L1067.3,264.6M1069.0,270.3 L1069.3,271.2 L1069.6,272.2 L1069.9,273.2 L1070.0,273.6M1071.5,279.1 L1071.8,280.1 L1072.0,281.0 L1072.3,282.0 L1072.4,282.4M1074.1,288.2 L1074.3,289.1 L1074.6,290.1 L1074.9,291.1 L1075.0,291.5M1076.2,297.2 L1076.3,298.1 L1076.5,299.0 L1076.7,299.9 L1076.8,300.5M1078.1,306.1 L1078.4,306.9 L1078.6,307.6 L1078.9,308.3 L1079.2,309.1 L1079.6,309.6M1084.9,313.2 L1085.6,313.0 L1086.3,312.5 L1086.8,312.0 L1087.1,311.6 L1087.5,311.1 L1087.8,310.6 L1087.9,310.5M1090.8,304.8 L1091.1,304.1 L1091.5,303.3 L1091.8,302.5 L1092.2,301.7 L1092.3,301.4M1094.0,295.8 L1094.2,294.9 L1094.4,294.0 L1094.7,293.0 L1094.8,292.5M1096.1,286.8 L1096.4,285.9 L1096.7,285.0 L1096.9,284.1 L1097.1,283.4M1098.8,277.7 L1099.0,276.8 L1099.3,275.9 L1099.6,275.0 L1099.7,274.5M1101.5,268.7 L1101.8,267.8 L1102.1,266.9 L1102.4,266.0 L1102.6,265.5M1104.4,259.9 L1104.8,258.9 L1105.1,258.0 L1105.4,257.1 L1105.6,256.4M1107.6,250.8 L1108.0,249.9 L1108.3,249.0 L1108.7,248.1 L1108.9,247.4M1111.1,241.8 L1111.5,240.9 L1111.8,240.0 L1112.2,239.1 L1112.5,238.4M1114.9,232.8 L1115.3,231.9 L1115.7,231.0 L1116.1,230.2 L1116.4,229.5M1119.1,223.8 L1119.5,222.9 L1120.0,222.1 L1120.4,221.2 L1120.8,220.5M1123.8,214.8 L1124.3,214.0 L1124.7,213.2 L1125.2,212.3 L1125.7,211.5M1129.2,205.9 L1129.6,205.1 L1130.1,204.3 L1130.7,203.5 L1131.2,202.7 L1131.4,202.5M1135.4,196.8 L1135.9,196.0 L1136.5,195.3 L1137.0,194.6 L1137.6,193.9 L1137.9,193.5M1142.4,187.9 L1143.0,187.2 L1143.7,186.4 L1144.3,185.7 L1144.9,185.0 L1145.4,184.4M1150.6,178.9 L1151.3,178.2 L1151.9,177.6 L1152.5,177.0 L1153.1,176.3 L1153.8,175.7 L1154.1,175.4M1159.5,170.3 L1160.3,169.6 L1161.0,169.0 L1161.8,168.3 L1162.5,167.7 L1163.0,167.2M1168.6,162.4 L1169.3,161.8 L1170.0,161.1 L1170.8,160.5 L1171.5,159.9 L1172.1,159.4M1177.6,155.0 L1178.3,154.4 L1179.1,153.9 L1179.8,153.3 L1180.5,152.8 L1181.1,152.3M1186.6,148.4 L1187.4,147.9 L1188.1,147.4 L1188.8,147.0 L1189.6,146.5 L1190.1,146.2M1195.6,142.9 L1196.4,142.5 L1197.1,142.1 L1197.9,141.7 L1198.8,141.2 L1199.0,141.1M1204.7,138.3 L1205.6,137.9 L1206.5,137.5 L1207.4,137.2 L1208.1,136.9M1213.6,134.7 L1214.5,134.3 L1215.3,134.0 L1216.2,133.7 L1217.1,133.3M1222.6,131.5 L1223.5,131.2 L1224.4,130.9 L1225.3,130.6 L1226.0,130.4M1231.6,129.2 L1232.4,129.0 L1233.3,128.9 L1234.1,128.7 L1235.0,128.5M1240.7,127.0 L1241.6,126.7 L1242.4,126.5 L1243.3,126.2 L1244.1,126.0M1249.7,124.1 L1250.5,123.8 L1251.4,123.5 L1252.2,123.2 L1253.1,122.9M1258.6,120.3 L1259.3,119.8 L1260.0,119.4 L1260.8,118.9 L1261.5,118.4 L1262.0,118.0M1267.6,115.0 L1268.4,114.7 L1269.3,114.6 L1270.1,114.4 L1271.0,114.4M1276.7,114.4 L1277.6,114.4 L1278.4,114.4 L1279.3,114.4 L1279.9,114.4M1285.7,114.4 L1286.5,114.4 L1287.4,114.4 L1288.3,114.4 L1289.1,114.2M1294.6,110.8 L1295.3,110.1 L1296.0,109.6 L1296.7,109.0 L1297.5,108.5 L1298.1,108.2M1303.7,108.5 L1304.4,109.1 L1305.2,109.7 L1305.9,110.3 L1306.6,110.9 L1307.0,111.1M1312.6,109.1 L1313.2,108.5 L1313.8,107.9 L1314.5,107.2 L1315.2,106.6 L1316.0,106.0M1321.7,105.4 L1322.6,105.6 L1323.4,105.7 L1324.3,105.9 L1325.1,106.1M1330.7,107.4 L1331.5,107.5 L1332.4,107.7 L1333.2,107.8 L1334.1,107.8M1339.7,106.3 L1340.4,105.8 L1341.1,105.3 L1341.9,104.7 L1342.6,104.2 L1343.0,103.9M1348.6,100.1 L1349.4,99.9 L1350.3,99.7 L1351.1,99.8 L1352.0,100.0M1357.6,103.5 L1358.4,104.0 L1359.2,104.5 L1360.1,104.8 L1360.9,105.0M1366.7,102.9 L1367.5,102.5 L1368.4,102.1 L1369.3,101.9 L1370.1,101.8M1375.6,101.8 L1376.5,101.8 L1377.4,101.8 L1378.2,101.8 L1379.1,101.8" class="dots"/>
<path d="M804.4,205.0 L804.9,205.9 L805.3,206.7 L805.8,207.6 L806.3,208.4M809.5,214.2 L810.0,215.0 L810.6,215.8 L811.1,216.6 L811.7,217.5M815.5,223.1 L816.1,223.9 L816.6,224.7 L817.2,225.5 L817.8,226.3 L817.9,226.5M821.9,232.0 L822.5,232.8 L823.0,233.6 L823.6,234.4 L824.2,235.2 L824.4,235.6M828.3,241.1 L828.9,241.9 L829.4,242.7 L830.0,243.5 L830.6,244.3 L830.7,244.5M834.9,250.2 L835.5,250.9 L836.1,251.7 L836.7,252.5 L837.3,253.3 L837.5,253.5M842.4,259.0 L843.1,259.8 L843.8,260.4 L844.6,261.1 L845.3,261.8 L845.9,262.3M851.5,266.2 L852.3,266.7 L853.2,267.1 L854.1,267.4 L854.8,267.6M860.5,268.4 L861.4,268.4 L862.4,268.4 L863.4,268.2 L863.9,268.1M869.4,266.4 L870.3,266.0 L871.2,265.6 L872.1,265.2 L872.7,264.9M878.3,261.4 L879.1,260.8 L879.9,260.2 L880.7,259.6 L881.5,259.0 L881.8,258.9M887.3,254.4 L888.1,253.8 L888.8,253.2 L889.6,252.5 L890.3,251.9 L890.9,251.4M896.4,246.7 L897.2,246.1 L898.0,245.5 L898.8,244.8 L899.5,244.2 L899.7,244.1M905.3,239.8 L906.1,239.3 L907.0,238.7 L907.8,238.2 L908.7,237.6 L908.9,237.5M914.3,234.3 L915.2,233.8 L916.0,233.4 L916.9,233.0 L917.8,232.6M923.4,230.2 L924.3,229.8 L925.3,229.5 L926.2,229.2 L926.9,229.0M932.5,227.4 L933.5,227.1 L934.4,226.9 L935.4,226.7 L935.7,226.7M941.5,225.8 L942.4,225.7 L943.4,225.6 L944.4,225.5 L944.8,225.4M950.4,225.2 L951.4,225.2 L952.3,225.2 L953.3,225.2 L953.8,225.2M959.3,225.5 L960.3,225.6 L961.3,225.7 L962.2,225.7 L962.7,225.8M968.3,226.5 L969.3,226.7 L970.2,226.8 L971.2,227.0 L971.7,227.1M977.5,228.2 L978.4,228.4 L979.4,228.6 L980.4,228.9 L980.9,229.0M986.5,230.5 L987.4,230.7 L988.3,231.0 L989.3,231.3 L989.7,231.4M995.5,233.3 L996.4,233.6 L997.3,234.0 L998.2,234.3 L998.7,234.5M1004.4,236.8 L1005.2,237.1 L1006.1,237.5 L1007.0,237.9 L1007.9,238.3M1013.4,240.9 L1014.3,241.4 L1015.1,241.8 L1016.0,242.3 L1016.7,242.6M1022.4,245.7 L1023.2,246.2 L1024.1,246.7 L1024.9,247.1 L1025.7,247.6M1031.4,250.5 L1032.3,250.9 L1033.2,251.2 L1034.0,251.6 L1034.7,251.9M1040.4,253.9 L1041.3,254.2 L1042.3,254.3 L1043.2,254.5 L1043.7,254.6M1049.5,254.8 L1050.5,254.8 L1051.4,254.7 L1052.4,254.4 L1052.6,254.4M1058.4,252.5 L1059.3,252.2 L1060.2,251.8 L1061.0,251.4 L1061.9,250.8M1067.4,247.2 L1068.2,246.6 L1068.9,246.0 L1069.7,245.4 L1070.5,244.8 L1070.8,244.5M1076.3,239.2 L1077.0,238.5 L1077.6,237.8 L1078.3,237.1 L1079.0,236.3 L1079.5,235.8M1084.2,230.2 L1084.8,229.4 L1085.4,228.7 L1086.0,227.9 L1086.6,227.1 L1086.8,226.9M1091.1,221.2 L1091.7,220.5 L1092.3,219.7 L1092.9,218.9 L1093.4,218.1 L1093.7,217.7M1097.9,212.2 L1098.5,211.4 L1099.2,210.6 L1099.8,209.8 L1100.4,209.1 L1100.5,208.9M1105.1,203.3 L1105.7,202.5 L1106.4,201.7 L1107.0,201.0 L1107.7,200.2 L1108.0,199.9M1113.1,194.1 L1113.8,193.4 L1114.5,192.7 L1115.2,192.0 L1115.9,191.2 L1116.4,190.7M1121.7,185.3 L1122.4,184.6 L1123.1,184.0 L1123.8,183.3 L1124.5,182.6 L1125.3,182.0M1130.7,177.0 L1131.5,176.4 L1132.2,175.7 L1133.0,175.1 L1133.7,174.4 L1134.3,174.0M1139.7,169.5 L1140.5,168.9 L1141.3,168.3 L1142.0,167.6 L1142.8,167.0 L1143.2,166.7M1148.9,162.5 L1149.7,161.9 L1150.5,161.3 L1151.3,160.7 L1152.1,160.1 L1152.3,160.0M1157.7,156.1 L1158.5,155.5 L1159.3,155.0 L1160.1,154.4 L1160.9,153.9 L1161.1,153.7M1166.8,149.9 L1167.6,149.4 L1168.4,148.8 L1169.2,148.3 L1170.0,147.7 L1170.2,147.6M1175.8,143.9 L1176.7,143.3 L1177.5,142.8 L1178.3,142.2 L1179.1,141.7 L1179.3,141.6M1184.7,138.0 L1185.5,137.4 L1186.3,136.9 L1187.1,136.4 L1187.9,135.8 L1188.1,135.7M1193.8,132.0 L1194.6,131.5 L1195.4,131.0 L1196.2,130.4 L1197.0,129.9 L1197.3,129.8M1202.7,126.3 L1203.6,125.8 L1204.4,125.2 L1205.2,124.7 L1206.1,124.2 L1206.3,124.1M1211.8,120.8 L1212.6,120.3 L1213.4,119.8 L1214.3,119.3 L1215.1,118.8M1220.8,115.6 L1221.7,115.1 L1222.6,114.6 L1223.5,114.2 L1224.1,113.8M1229.8,110.9 L1230.7,110.4 L1231.6,110.0 L1232.5,109.6 L1233.1,109.3M1238.8,106.6 L1239.7,106.2 L1240.6,105.8 L1241.5,105.4 L1242.1,105.2M1247.8,102.8 L1248.7,102.4 L1249.6,102.0 L1250.6,101.7 L1251.2,101.4M1256.8,99.3 L1257.7,98.9 L1258.6,98.6 L1259.5,98.3 L1260.2,98.0M1265.7,96.1 L1266.7,95.8 L1267.6,95.5 L1268.5,95.2 L1269.2,94.9M1274.7,93.2 L1275.6,92.9 L1276.6,92.6 L1277.5,92.3 L1278.2,92.1M1283.9,90.4 L1284.9,90.1 L1285.8,89.9 L1286.7,89.6 L1287.2,89.5M1292.9,87.9 L1293.8,87.6 L1294.8,87.4 L1295.7,87.1 L1296.1,87.0M1301.9,85.5 L1302.8,85.3 L1303.8,85.0 L1304.8,84.8 L1305.2,84.6M1310.8,83.3 L1311.8,83.0 L1312.7,82.8 L1313.7,82.5 L1314.2,82.4M1319.8,81.1 L1320.7,80.9 L1321.7,80.7 L1322.7,80.4 L1323.1,80.3M1328.9,79.0 L1329.9,78.8 L1330.9,78.5 L1331.8,78.3 L1332.1,78.3M1337.9,77.0 L1338.8,76.8 L1339.8,76.5 L1340.8,76.3 L1341.3,76.2M1346.8,75.0 L1347.8,74.8 L1348.8,74.6 L1349.7,74.4 L1350.2,74.3M1355.8,73.0 L1356.7,72.8 L1357.7,72.6 L1358.7,72.4 L1359.2,72.3M1364.7,71.1 L1365.7,70.9 L1366.6,70.6 L1367.6,70.4 L1368.1,70.3M1373.9,69.0 L1374.9,68.8 L1375.8,68.6 L1376.8,68.4 L1377.3,68.3" class="dots"/>
<ellipse cx="151.1" cy="55.4" rx="5.9" ry="15" fill="none" stroke="#000" stroke-width="1"/><text x="161.6" y="86.2" class="S">S</text><text transform="translate(174.2,92.0) scale(1.15,1)" class="sub">21</text>
<ellipse cx="216.3" cy="140.4" rx="5.9" ry="15" fill="none" stroke="#000" stroke-width="1"/><text x="222.0" y="176.3" class="S">S</text><text transform="translate(234.6,182.1) scale(1.15,1)" class="sub">11</text>
<ellipse cx="868.0" cy="101" rx="5.9" ry="15" fill="none" stroke="#000" stroke-width="1"/><text x="874.4" y="139.5" class="S">S</text><text transform="translate(887.0,145.3) scale(1.15,1)" class="sub">32</text>
<ellipse cx="928.5" cy="228.3" rx="5.9" ry="15" fill="none" stroke="#000" stroke-width="1"/><text x="935.3" y="260.9" class="S">S</text><text transform="translate(947.9,266.7) scale(1.15,1)" class="sub">22</text>
</svg>
</body></html>
